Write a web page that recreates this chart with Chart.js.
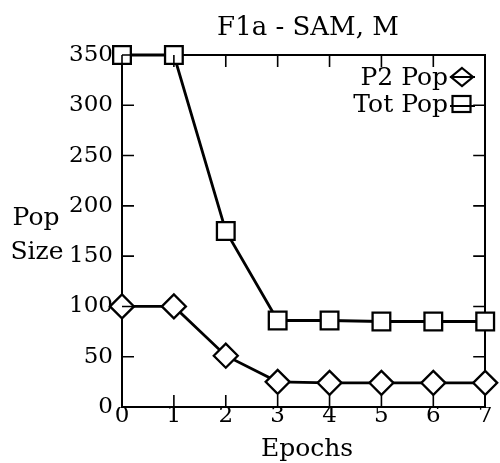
<!DOCTYPE html>
<html>
<head>
<meta charset="utf-8">
<script src="https://cdn.jsdelivr.net/npm/chart.js@4"></script>
<style>
  html, body { margin: 0; padding: 0; background: #fff; }
  #wrap { width: 500px; height: 463px; }
</style>
</head>
<body>
<div id="wrap"><canvas id="popChart" width="500" height="463"></canvas></div>
<script>
// data
const epochs = [0, 1, 2, 3, 4, 5, 6, 7];
const p2Pop = [100, 100, 51, 25, 24, 24, 24, 24];
const totPop = [350, 350, 175, 86, 86, 85, 85, 85];
const yTicks = [0, 50, 100, 150, 200, 250, 300, 350];

const serif = "'DejaVu Serif', 'Liberation Serif', serif";

// inward tick marks on all four sides, title, axis labels and legend
const decorations = {
  id: "decorations",
  afterDraw(chart) {
    const { ctx, chartArea: a, scales } = chart;
    ctx.save();
    ctx.strokeStyle = "#000";
    ctx.lineWidth = 1.6;
    ctx.beginPath();
    epochs.forEach((e) => {
      const x = scales.x.getPixelForValue(e);
      ctx.moveTo(x, a.bottom); ctx.lineTo(x, a.bottom - 12);
      ctx.moveTo(x, a.top); ctx.lineTo(x, a.top + 12);
    });
    yTicks.forEach((v) => {
      const y = scales.y.getPixelForValue(v);
      ctx.moveTo(a.left, y); ctx.lineTo(a.left + 12, y);
      ctx.moveTo(a.right, y); ctx.lineTo(a.right - 12, y);
    });
    ctx.stroke();

    ctx.fillStyle = "#000";
    ctx.font = "26px " + serif;
    ctx.textAlign = "center";
    ctx.textBaseline = "alphabetic";
    ctx.fillText("F1a - SAM, M", 308, 35);
    ctx.font = "25px " + serif;
    ctx.fillText("Epochs", 307, 456);
    ctx.fillText("Pop", 36, 225);
    ctx.fillText("Size", 37, 259);

    // legend
    ctx.textAlign = "right";
    ctx.fillText("P2 Pop", 448, 85);
    ctx.fillText("Tot Pop", 448, 112);
    ctx.lineWidth = 2.2;
    ctx.beginPath();
    ctx.moveTo(450, 77); ctx.lineTo(475, 77);
    ctx.moveTo(450, 106); ctx.lineTo(475, 106);
    ctx.stroke();
    ctx.beginPath();
    ctx.moveTo(462, 68); ctx.lineTo(473, 77); ctx.lineTo(462, 86); ctx.lineTo(451, 77); ctx.closePath();
    ctx.stroke();
    ctx.strokeRect(452.5, 96, 18, 16);
    ctx.restore();
  },
};

const markerCommon = {
  borderColor: "#000",
  borderWidth: 2.8,
  pointBackgroundColor: "#fff",
  pointBorderColor: "#000",
  pointBorderWidth: 2.3,
  tension: 0,
};

new Chart(document.getElementById("popChart"), {
  type: "line",
  data: {
    datasets: [
      {
        label: "P2 Pop",
        data: epochs.map((e, i) => ({ x: e, y: p2Pop[i] })),
        pointStyle: "rectRot",
        pointRadius: 12,
        ...markerCommon,
      },
      {
        label: "Tot Pop",
        data: epochs.map((e, i) => ({ x: e, y: totPop[i] })),
        pointStyle: "rect",
        pointRadius: 12.5,
        ...markerCommon,
      },
    ],
  },
  options: {
    responsive: false,
    animation: false,
    events: [],
    clip: false,
    layout: { padding: { top: 55, right: 5, left: 0, bottom: 0 } },
    plugins: { legend: { display: false }, tooltip: { enabled: false } },
    scales: {
      x: {
        type: "linear",
        min: 0,
        max: 7,
        afterFit: (s) => { s.height = 56; },
        afterBuildTicks: (s) => { s.ticks = epochs.map((v) => ({ value: v })); },
        grid: { display: false, drawTicks: false },
        border: { display: true, color: "#000", width: 2 },
        ticks: { color: "#000", font: { family: serif, size: 23 }, padding: -5 },
      },
      y: {
        min: 0,
        max: 350,
        afterFit: (s) => { s.width = 122; },
        afterBuildTicks: (s) => { s.ticks = yTicks.map((v) => ({ value: v })); },
        grid: { display: false, drawTicks: false },
        border: { display: true, color: "#000", width: 2 },
        ticks: { color: "#000", font: { family: serif, size: 23 }, padding: 9, crossAlign: "near" },
      },
      x2: { position: "top", display: true, min: 0, max: 7, type: "linear",
        afterFit: (s) => { s.height = 0; },
        grid: { display: false, drawTicks: false }, ticks: { display: false },
        border: { display: true, color: "#000", width: 2 } },
      y2: { position: "right", display: true, min: 0, max: 350,
        afterFit: (s) => { s.width = 0; },
        grid: { display: false, drawTicks: false }, ticks: { display: false },
        border: { display: true, color: "#000", width: 2 } },
    },
  },
  plugins: [decorations],
});
</script>
</body>
</html>
